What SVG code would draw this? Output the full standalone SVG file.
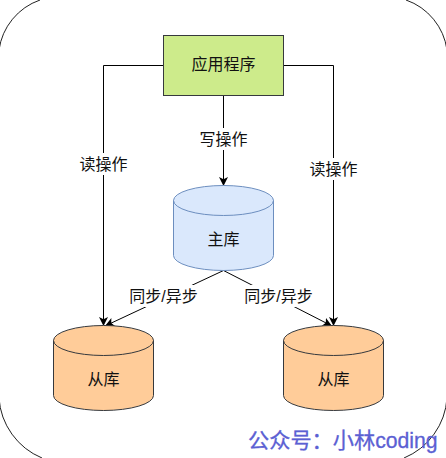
<svg xmlns="http://www.w3.org/2000/svg" width="446" height="458" viewBox="0 0 446 458">
<style>
text{font-family:"Liberation Sans","Noto Sans CJK SC",sans-serif;font-size:16px;fill:#111;text-anchor:middle}
.c{fill:none;stroke:#000;stroke-width:1}
.l{fill:#fff;stroke:none}
.wm{font-size:21.200px;fill:#5b60d3;stroke:#5b60d3;stroke-width:.3;text-anchor:start}
</style>
<defs>
<marker id="a" markerUnits="userSpaceOnUse" markerWidth="10" markerHeight="10" refX="8" refY="4.500" orient="auto"><path d="M0 0L9 4.500L0 9L2.200 4.500Z" fill="#000"/></marker>
</defs>
<rect width="446" height="458" fill="#fff"/>
<path id="frame" d="M40 0A62 62 0 0 0 -1 50M406 0A62 62 0 0 1 447 50M-1 398A70 70 0 0 0 42 458M447 398A70 70 0 0 1 404 458" fill="none" stroke="#222" stroke-width="1"/>
<g id="connectors">
<path class="c" d="M163.500 65.500H103.500V325" marker-end="url(#a)"/>
<path class="c" d="M283.500 65.500H333.500V325" marker-end="url(#a)"/>
<path class="c" d="M223.500 95.500V185" marker-end="url(#a)"/>
<path class="c" d="M223.500 270.500L106 325.500" marker-end="url(#a)"/>
<path class="c" d="M223.500 270.500L331 325.500" marker-end="url(#a)"/>
<rect class="l" x="197" y="128" width="54" height="22"/><text x="223.500" y="144.500">写操作</text>
<rect class="l" x="77" y="153" width="54" height="22"/><text x="103.500" y="169.500">读操作</text>
<rect class="l" x="307" y="158" width="54" height="22"/><text x="333.500" y="174.500">读操作</text>
<rect class="l" x="128" y="285" width="70" height="22"/><text x="163.500" y="301.500">同步/异步</text>
<rect class="l" x="243" y="285" width="70" height="22"/><text x="278.500" y="301.500">同步/异步</text>
</g>
<g id="app"><rect x="163.500" y="35.500" width="120" height="60" fill="#cdeb8b" stroke="#36393d"/><text x="223.500" y="69.500">应用程序</text></g>
<g id="master"><path d="M173.500 200.500A50 15 0 0 1 273.500 200.500V255.500A50 15 0 0 1 173.500 255.500Z" fill="#dae8fc" stroke="#6c8ebf"/><path d="M173.500 200.500A50 15 0 0 0 273.500 200.500" fill="none" stroke="#6c8ebf"/><text x="223.500" y="244.500">主库</text></g>
<g id="slave1"><path d="M53.500 340.500A50 15 0 0 1 153.500 340.500V395.500A50 15 0 0 1 53.500 395.500Z" fill="#ffcc99" stroke="#36393d"/><path d="M53.500 340.500A50 15 0 0 0 153.500 340.500" fill="none" stroke="#36393d"/><text x="103.500" y="384.500">从库</text></g>
<g id="slave2"><path d="M283.500 340.500A50 15 0 0 1 383.500 340.500V395.500A50 15 0 0 1 283.500 395.500Z" fill="#ffcc99" stroke="#36393d"/><path d="M283.500 340.500A50 15 0 0 0 383.500 340.500" fill="none" stroke="#36393d"/><text x="333.500" y="384.500">从库</text></g>
<text class="wm" x="248" y="448">公众号：小林coding</text>
</svg>
